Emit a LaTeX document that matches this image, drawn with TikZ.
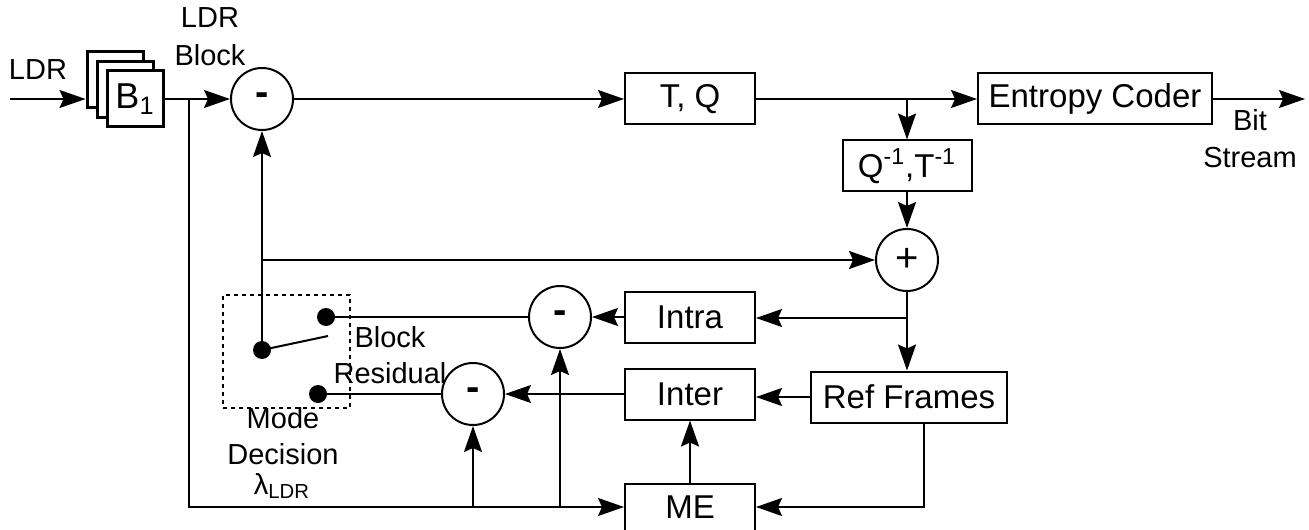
\documentclass[tikz,border=0pt]{standalone}
\usepackage{fontspec}
\setmainfont{Liberation Sans}
\usetikzlibrary{arrows.meta,shapes,backgrounds,fit}

\begin{document}
\begin{tikzpicture}[x=0.5pt,y=-0.5pt,font=\fontsize{16.5pt}{19pt}\selectfont]
		\tikzstyle{block}=[draw, line width=1pt, minimum width=65pt, minimum height=25.5pt, inner sep=1pt]
		\tikzstyle{sum}=[draw, circle, line width=1pt, minimum size=31pt, inner sep=0pt, font=\fontsize{20pt}{22pt}\selectfont]
		\tikzstyle{frame}=[draw, line width=1.5pt, fill=white, minimum size=28pt, inner sep=0pt]
		\tikzstyle{contact}=[circle, fill=black, minimum size=9pt, inner sep=0pt]
		\tikzstyle{tag}=[inner sep=0pt, font=\fontsize{14.5pt}{17pt}\selectfont]
		\tikzstyle{flow}=[line width=1pt, -{Stealth[length=13pt,width=9pt,inset=2pt]}]
		\tikzstyle{wire}=[line width=1pt]

		\useasboundingbox (0,0) rectangle (1309,529);

		% input block stack
		\node [frame] (B3) at (115,80) {};
		\node [frame] (B2) at (125,90) {};
		\node [frame, font=\fontsize{18pt}{20pt}\selectfont] (B1) at (135,99) {B\textsubscript{1}};
		\node [tag] (ldrin) at (38,70) {LDR};
		\node [tag] (ldrtop) at (210,18) {LDR};
		\node [tag] (blocktop) at (210,55) {Block};
		\coordinate (in) at (10,99);
		\coordinate (split) at (189,99);

		% forward path
		\node [sum] (sub1) at (262,99) {\textbf{-}};
		\node [block] (tq) at (690,99) {T, Q};
		\node [block, minimum width=117pt] (ec) at (1095,99) {Entropy Coder};
		\coordinate (out) at (1305,99);
		\node [tag] (bit) at (1250,120) {Bit};
		\node [tag] (stream) at (1250,158) {Stream};
		\coordinate (tap) at (907,99);

		% reconstruction
		\node [block, minimum width=64.5pt] (iq) at (907,166) {Q\textsuperscript{-1},T\textsuperscript{-1}};
		\node [sum] (add) at (907,260) {+};
		\coordinate (tap2) at (907,318);
		\coordinate (tap3) at (262,260);
		\node [block, minimum width=98pt] (ref) at (909,397) {Ref Frames};

		% prediction
		\node [block] (intra) at (690,317) {Intra};
		\node [block] (inter) at (690,394) {Inter};
		\node [block, minimum height=23.5pt] (me) at (690,507) {ME};
		\node [sum] (sub2) at (560,317) {\textbf{-}};
		\node [sum] (sub3) at (473,394) {\textbf{-}};
		\coordinate (j2) at (560,507);
		\coordinate (j3) at (473,507);

		% mode decision switch
		\node (mode) [draw, line width=1pt, dash pattern=on 2pt off 2pt, minimum width=63.5pt, minimum height=56.5pt] at (286.5,351.5) {};
		\node [contact] (sw) at (262,350) {};
		\node [contact] (swA) at (326,317) {};
		\node [contact] (swB) at (318,394) {};
		\coordinate (arm) at (328,336);
		\node [tag] (blk) at (390,337) {Block};
		\node [tag] (res) at (390,373) {Residual};
		\node [tag] (modetxt) at (283,418) {Mode};
		\node [tag] (dec) at (283,454) {Decision};
		\node [tag] (lam) at (282,486) {λ\textsubscript{LDR}};

		% connectors
		\draw [flow] (in) -- (in -| B3.west);
		\draw [flow] (B1.east) -- (sub1.west);
		\draw [flow] (split) |- (me.west);
		\draw [flow] (sub1.east) -- (tq.west);
		\draw [flow] (tq.east) -- (ec.west);
		\draw [flow] (ec.east) -- (out);
		\draw [flow] (tap) -- (iq.north);
		\draw [flow] (iq.south) -- (add.north);
		\draw [flow] (add.south) -- (add.south |- ref.north);
		\draw [flow] (tap2) -- (tap2 -| intra.east);
		\draw [flow] (intra.west) -- (sub2.east);
		\draw [wire] (sub2.west) -- (swA.center);
		\draw [wire] (sw.center) -- (arm);
		\draw [flow] (sw.center) -- (sub1.south);
		\draw [flow] (tap3) -- (add.west);
		\draw [flow] (ref.west) -- (ref.west -| inter.east);
		\draw [flow] (inter.west) -- (sub3.east);
		\draw [wire] (sub3.west) -- (swB.center);
		\draw [flow] (me.north) -- (inter.south);
		\draw [flow] ([xshift=7.5pt]ref.south) |- (me.east);
		\draw [flow] (j2) -- (sub2.south);
		\draw [flow] (j3) -- (sub3.south);
	\end{tikzpicture}
\end{document}
